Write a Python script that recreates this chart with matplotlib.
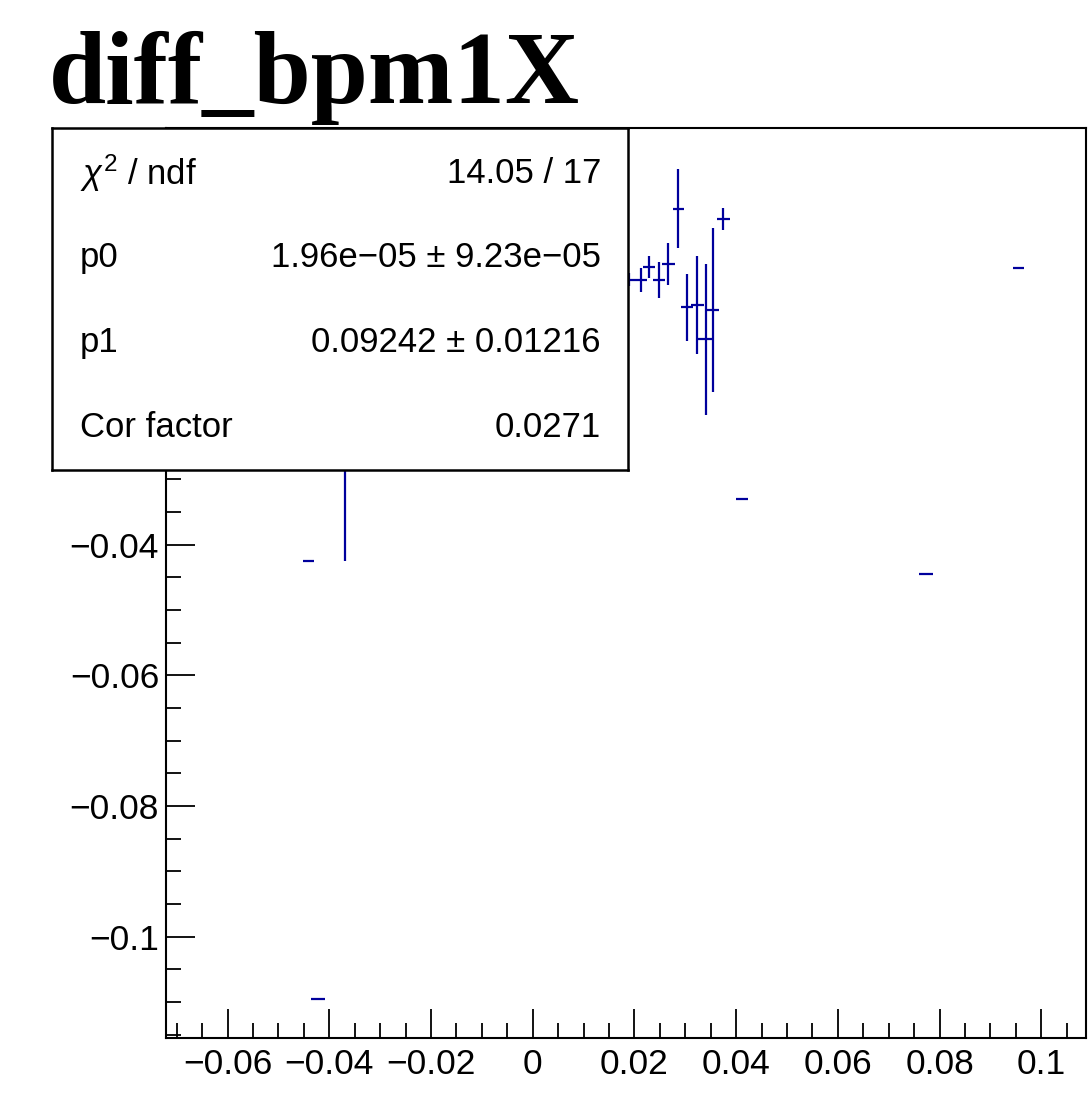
import matplotlib
matplotlib.use("Agg")
import matplotlib.pyplot as plt
from matplotlib.ticker import MultipleLocator, FuncFormatter

plt.rcParams['font.family'] = ['Liberation Sans', 'DejaVu Sans']
plt.rcParams['mathtext.fontset'] = 'custom'
plt.rcParams['mathtext.rm'] = 'Liberation Sans'
plt.rcParams['mathtext.it'] = 'Liberation Sans:italic'

# Datos (diff_bpm1X)
x_vals = [-0.0440, -0.0369, -0.0422, 0.0412, 0.0774, 0.0955,
          0.0190, 0.0213, 0.0229, 0.0249, 0.0267, 0.0286,
          0.0303, 0.0324, 0.0340, 0.0355, 0.0375]
y_vals = [-0.04245, -0.0150, -0.1095, -0.0330, -0.0445, 0.00242,
          0.00054, 0.00054, 0.00248, 0.00054, 0.00294, 0.01146,
          -0.00365, -0.00324, -0.00855, -0.00406, 0.00983]
x_err = [0.0011, 0.0012, 0.0013, 0.0012, 0.0014, 0.0011,
         0.0012, 0.0012, 0.0012, 0.0012, 0.0012, 0.0011,
         0.0012, 0.0012, 0.0016, 0.0012, 0.0013]
y_err = [0.0, 0.0275, 0.0, 0.0, 0.0, 0.0,
         0.0010, 0.0018, 0.0017, 0.0028, 0.0032, 0.0061,
         0.0051, 0.0075, 0.0116, 0.0125, 0.0017]

titulo = "diff_bpm1X"
stats_labels = [r"$\chi^{2}$ / ndf", "p0", "p1", "Cor factor"]
stats_values = ["14.05 / 17", "1.96e\u221205 \u00b1 9.23e\u221205",
                "0.09242 \u00b1 0.01216", "0.0271"]

x_range = (-0.0721, 0.1088)
y_range = (-0.1155, 0.0238)

fig = plt.figure(figsize=(10.92, 10.95), dpi=100)
ax = fig.add_axes([0.152, 0.0521, 0.8425, 0.831])

ax.errorbar(x_vals, y_vals, xerr=x_err, yerr=y_err, fmt='none',
            ecolor='#00009c', elinewidth=1.6, capsize=0)

ax.set_xlim(*x_range)
ax.set_ylim(*y_range)

def fmt(v, pos):
    v = round(v, 6)
    if v == 0:
        return "0"
    return ("%g" % v).replace('-', '\u2212')

def fmt_y(v, pos):
    # las etiquetas de arriba quedan tapadas por la caja de estadisticas
    if v > -0.03:
        return ""
    return fmt(v, pos)

ax.xaxis.set_major_locator(MultipleLocator(0.02))
ax.xaxis.set_minor_locator(MultipleLocator(0.005))
ax.yaxis.set_major_locator(MultipleLocator(0.02))
ax.yaxis.set_minor_locator(MultipleLocator(0.005))
ax.xaxis.set_major_formatter(FuncFormatter(fmt))
ax.yaxis.set_major_formatter(FuncFormatter(fmt_y))

ax.tick_params(which='both', direction='in', top=False, right=False,
               labelsize=25.5, width=1.3, color='black')
ax.tick_params(which='major', length=21)
ax.tick_params(which='minor', length=10.5)
ax.tick_params(axis='x', pad=7)
ax.tick_params(axis='y', pad=5)
for s in ax.spines.values():
    s.set_linewidth(1.5)

# Titulo
fig.text(0.045, 1 - 103 / 1095, titulo, fontsize=74, fontweight='bold',
         family='Liberation Serif', ha='left', va='baseline')

# Caja de estadisticas
box = fig.add_axes([0.0476, 0.5708, 0.5275, 0.3123])
box.set_facecolor('white')
box.set_xticks([])
box.set_yticks([])
for s in box.spines.values():
    s.set_linewidth(1.8)
box.set_zorder(5)

filas_y = [173, 258, 343, 428]
for lab, val, py in zip(stats_labels, stats_values, filas_y):
    yy = 1 - (py - 128) / (470 - 128)
    box.text(0.048, yy, lab, fontsize=25, ha='left', va='center',
             transform=box.transAxes)
    box.text(0.953, yy, val, fontsize=25, ha='right', va='center',
             transform=box.transAxes)

fig.savefig("out.png", dpi=100)
